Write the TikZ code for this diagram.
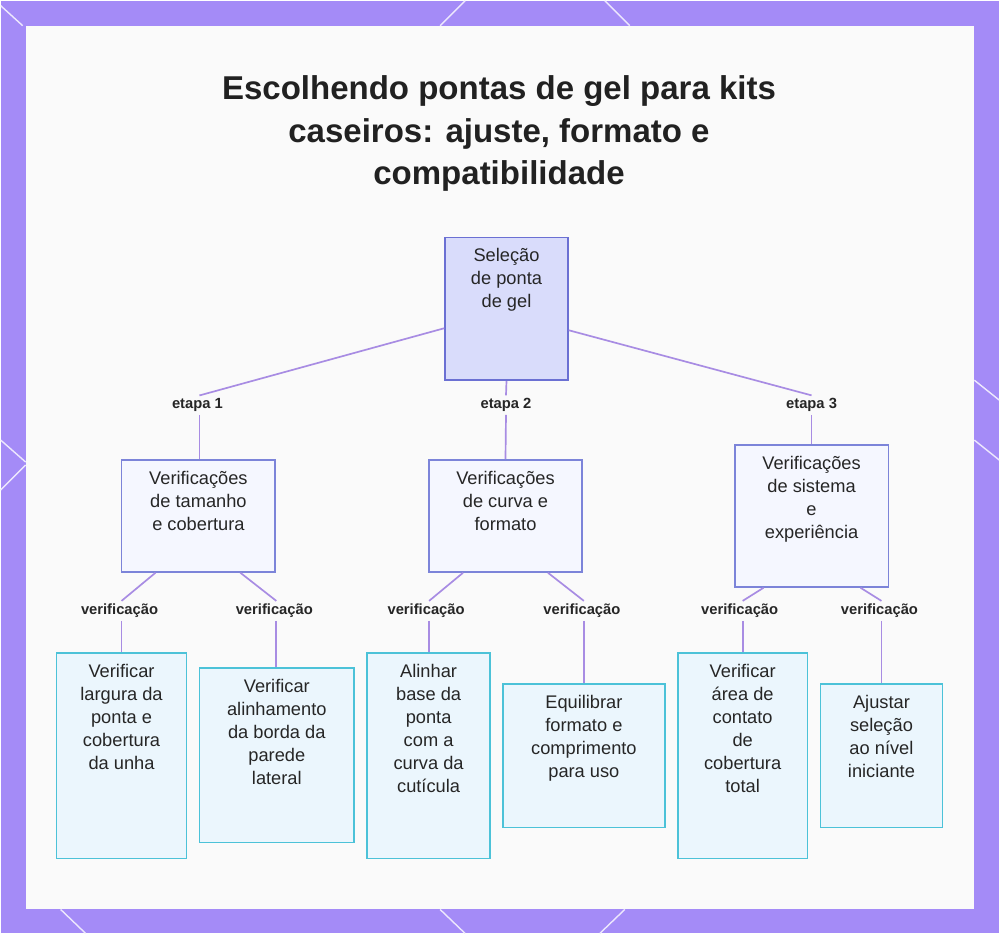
\documentclass[tikz,border=0pt]{standalone}
\usepackage{fontspec}
\setmainfont{Liberation Sans}
\usetikzlibrary{fit}
\definecolor{frame}{HTML}{A48BF7}
\definecolor{rootfill}{HTML}{D9DCFB}
\definecolor{rootline}{HTML}{6B70D3}
\definecolor{midfill}{HTML}{F5F7FF}
\definecolor{midline}{HTML}{7C84D9}
\definecolor{leaffill}{HTML}{EBF6FD}
\definecolor{leafline}{HTML}{4CC2D8}
\definecolor{link}{HTML}{A88CE3}
\begin{document}
\begin{tikzpicture}[x=0.025cm, y=-0.025cm,
  box/.style = {draw, line width=1.2pt, inner sep=0pt},
  root/.style = {box, draw=rootline, fill=rootfill},
  mid/.style = {box, draw=midline, fill=midfill},
  leaf/.style = {box, draw=leafline, fill=leaffill},
  txt/.style = {anchor=north, align=center, text=black!85, font=\fontsize{13}{16.4}\selectfont},
  tag/.style = {font=\bfseries\fontsize{10.5}{12}\selectfont, text=black!85, inner sep=2pt},
  link/.style = {draw=link, line width=1.2pt}]
	% frame and panel
	\fill[frame] (0,0) rectangle (1000,934);
	\fill[white!98!black] (25,25) rectangle (975,910);
	\foreach \a/\b/\c/\d in {0/5/22/25, 440/25/465/0, 605/0/630/25, 0/440/25/462, 0/490/25/465, 975/380/1000/400, 975/440/1000/460, 60/910/85/934, 440/910/465/934, 600/934/625/910}
		\draw[white!80!frame, line width=1pt] (\a,\b) -- (\c,\d);
	
	% title
	\node[align=center, font=\bfseries\fontsize{23.5}{30}\selectfont, text=black!87] (title) at (499,133)
		{Escolhendo pontas de gel para kits\\caseiros: ajuste, formato e\\compatibilidade};
	
	% boxes
	\node[root, fit={(445,237) (568,380)}] (r) {};
	\node[mid, fit={(121,460) (275,572)}] (a) {};
	\node[mid, fit={(429,460) (582,572)}] (b) {};
	\node[mid, fit={(735,445) (889,587)}] (c) {};
	\node[leaf, fit={(56,653) (186,859)}] (l1) {};
	\node[leaf, fit={(199,668) (354,843)}] (l2) {};
	\node[leaf, fit={(367,653) (490,859)}] (l3) {};
	\node[leaf, fit={(503,684) (665,828)}] (l4) {};
	\node[leaf, fit={(678,653) (808,859)}] (l5) {};
	\node[leaf, fit={(821,684) (943,828)}] (l6) {};
	
	% texts
	\node[txt] (rt) at ([yshift=-5pt]r.north) {Seleção\\de ponta\\de gel};
	\node[txt] (at) at ([yshift=-5pt]a.north) {Verificações\\de tamanho\\e cobertura};
	\node[txt] (bt) at ([yshift=-5pt]b.north) {Verificações\\de curva e\\formato};
	\node[txt] (ct) at ([yshift=-5pt]c.north) {Verificações\\de sistema\\e\\experiência};
	\node[txt] (l1t) at ([yshift=-5pt]l1.north) {Verificar\\largura da\\ponta e\\cobertura\\da unha};
	\node[txt] (l2t) at ([yshift=-5pt]l2.north) {Verificar\\alinhamento\\da borda da\\parede\\lateral};
	\node[txt] (l3t) at ([yshift=-5pt]l3.north) {Alinhar\\base da\\ponta\\com a\\curva da\\cutícula};
	\node[txt] (l4t) at ([yshift=-5pt]l4.north) {Equilibrar\\formato e\\comprimento\\para uso};
	\node[txt] (l5t) at ([yshift=-5pt]l5.north) {Verificar\\área de\\contato\\de\\cobertura\\total};
	\node[txt] (l6t) at ([yshift=-5pt]l6.north) {Ajustar\\seleção\\ao nível\\iniciante};
	
	% tags
	\node[tag] (e1) at (197,405) {etapa 1};
	\node[tag] (e2) at (506,405) {etapa 2};
	\node[tag] (e3) at (812,405) {etapa 3};
	\node[tag] (v1) at (119,611) {verificação};
	\node[tag] (v2) at (274,611) {verificação};
	\node[tag] (v3) at (426,611) {verificação};
	\node[tag] (v4) at (582,611) {verificação};
	\node[tag] (v5) at (740,611) {verificação};
	\node[tag] (v6) at (880,611) {verificação};
	
	% links
	\draw[link] (r.west |- 0,328) -- (e1.north -| 199,0);
	\draw[link] (e1.south -| 199,0) -- (a.north -| 199,0);
	\draw[link] (r.south) -- (e2.north);
	\draw[link] (e2.south) -- (b.north);
	\draw[link] (r.east |- 0,330) -- (e3.north);
	\draw[link] (e3.south) -- (c.north);
	\foreach \p/\v/\l/\x/\xl in {a/v1/l1/155/121, a/v2/l2/240/276, b/v3/l3/463/429, b/v4/l4/548/584, c/v5/l5/764/743, c/v6/l6/861/882} {
		\draw[link] (\p.south -| \x,0) -- (\v.north -| \xl,0);
		\draw[link] (\v.south -| \xl,0) -- (\l.north -| \xl,0);
	}
\end{tikzpicture}
\end{document}
